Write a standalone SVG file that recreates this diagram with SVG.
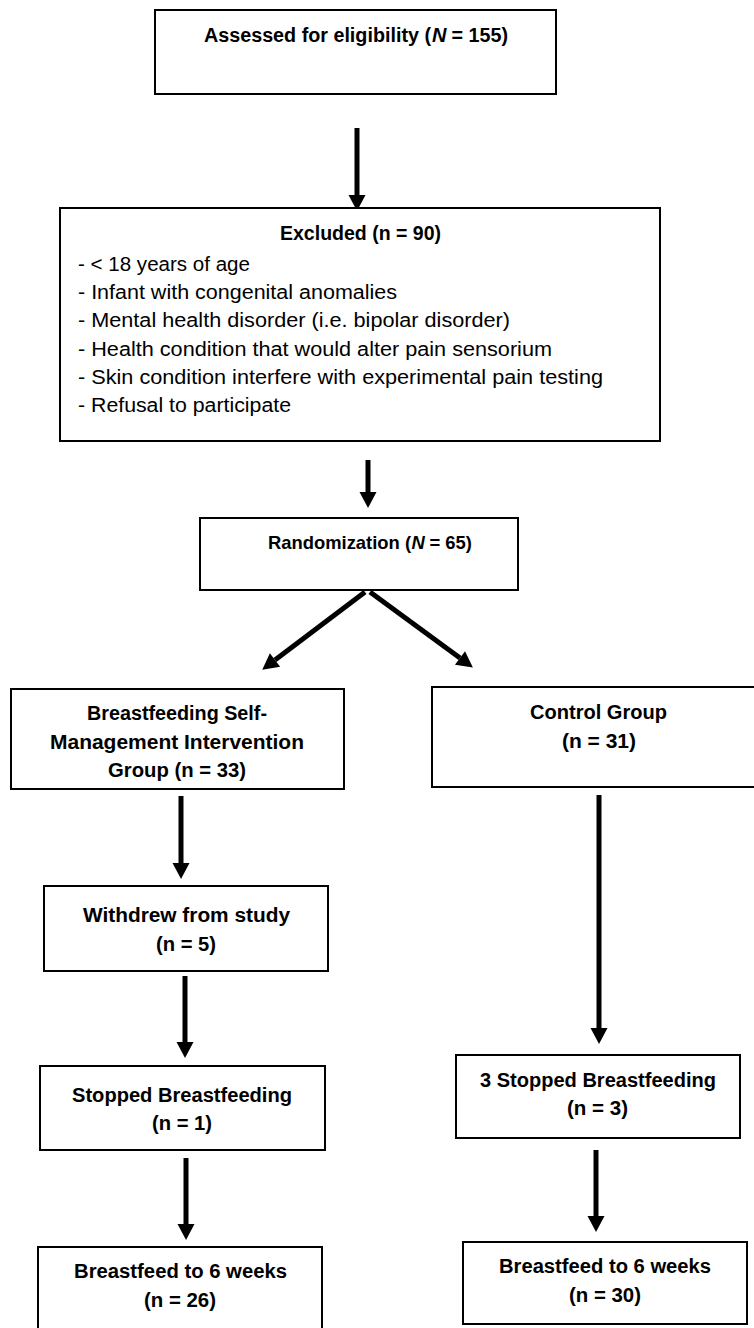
<svg xmlns="http://www.w3.org/2000/svg" width="754" height="1328" viewBox="0 0 754 1328">
<style>
.box{fill:#fff;stroke:#000;stroke-width:2}
.b{font-family:"Liberation Sans",Arial,sans-serif;font-weight:bold;font-size:20px;fill:#000;text-anchor:middle}
.s{text-anchor:start}
.i{font-style:italic}
.sm{font-size:18.4px}
.r{font-family:"Liberation Sans",Arial,sans-serif;font-size:19.5px;fill:#000}
.c{stroke:#000;stroke-width:5;fill:none;marker-end:url(#ah)}
</style>
<defs>
<marker id="ah" markerUnits="userSpaceOnUse" markerWidth="16" markerHeight="17" viewBox="0 0 16 17" refX="0" refY="8.5" orient="auto" overflow="visible">
<path d="M0,0 L16,8.5 L0,17 Z" fill="#000"/>
</marker>
</defs>
<rect width="754" height="1328" fill="#fff"/>
<g id="connectors">
<line class="c" x1="357" y1="128" x2="357" y2="195"/>
<line class="c" x1="368" y1="460" x2="368" y2="492"/>
<line class="c" x1="365" y1="592" x2="275" y2="660"/>
<line class="c" x1="370" y1="592" x2="460" y2="658"/>
<line class="c" x1="181" y1="796" x2="181" y2="863"/>
<line class="c" x1="599" y1="795" x2="599" y2="1028"/>
<line class="c" x1="185" y1="976" x2="185" y2="1042"/>
<line class="c" x1="186" y1="1158" x2="186" y2="1224"/>
<line class="c" x1="596" y1="1150" x2="596" y2="1216"/>
</g>
<g id="n-assessed">
<rect class="box" x="155" y="10" width="401" height="84"/>
<text class="b s" x="204" y="42" textLength="227" lengthAdjust="spacingAndGlyphs">Assessed for eligibility (</text>
<text class="b s i" x="432" y="42">N</text>
<text class="b s" x="451.5" y="42" textLength="56.5" lengthAdjust="spacingAndGlyphs">= 155)</text>
</g>
<g id="n-excluded">
<rect class="box" x="60" y="208" width="600" height="233"/>
<text class="b" x="360.5" y="240" textLength="161" lengthAdjust="spacingAndGlyphs">Excluded (n = 90)</text>
<text class="r" x="78" y="271" textLength="172" lengthAdjust="spacingAndGlyphs">- &lt; 18 years of age</text>
<text class="r" x="78" y="299" textLength="319" lengthAdjust="spacingAndGlyphs">- Infant with congenital anomalies</text>
<text class="r" x="78" y="327" textLength="432" lengthAdjust="spacingAndGlyphs">- Mental health disorder (i.e. bipolar disorder)</text>
<text class="r" x="78" y="356" textLength="474" lengthAdjust="spacingAndGlyphs">- Health condition that would alter pain sensorium</text>
<text class="r" x="78" y="384" textLength="525" lengthAdjust="spacingAndGlyphs">- Skin condition interfere with experimental pain testing</text>
<text class="r" x="78" y="412" textLength="213" lengthAdjust="spacingAndGlyphs">- Refusal to participate</text>
</g>
<g id="n-random">
<rect class="box" x="200" y="518" width="318" height="72"/>
<text class="b s sm" x="268" y="549">Randomization (</text>
<text class="b s i sm" x="411.5" y="549">N</text>
<text class="b s sm" x="429.5" y="549">= 65)</text>
</g>
<g id="n-intervention">
<rect class="box" x="11" y="689" width="333" height="100"/>
<text class="b" x="177" y="720" textLength="180" lengthAdjust="spacingAndGlyphs">Breastfeeding Self-</text>
<text class="b" x="177" y="749" textLength="254" lengthAdjust="spacingAndGlyphs">Management Intervention</text>
<text class="b" x="177" y="777" textLength="138" lengthAdjust="spacingAndGlyphs">Group (n = 33)</text>
</g>
<g id="n-control">
<rect class="box" x="432" y="687" width="330" height="100"/>
<text class="b" x="598.5" y="719" textLength="137" lengthAdjust="spacingAndGlyphs">Control Group</text>
<text class="b" x="599" y="748" textLength="74" lengthAdjust="spacingAndGlyphs">(n = 31)</text>
</g>
<g id="n-withdrew">
<rect class="box" x="44" y="886" width="284" height="85"/>
<text class="b" x="186.5" y="922" textLength="207" lengthAdjust="spacingAndGlyphs">Withdrew from study</text>
<text class="b" x="186" y="951" textLength="60" lengthAdjust="spacingAndGlyphs">(n = 5)</text>
</g>
<g id="n-stopped-left">
<rect class="box" x="40" y="1066" width="285" height="84"/>
<text class="b" x="182" y="1102" textLength="220" lengthAdjust="spacingAndGlyphs">Stopped Breastfeeding</text>
<text class="b" x="182" y="1130" textLength="60" lengthAdjust="spacingAndGlyphs">(n = 1)</text>
</g>
<g id="n-bf-left">
<rect class="box" x="38" y="1247" width="284" height="90"/>
<text class="b" x="180.5" y="1278" textLength="213" lengthAdjust="spacingAndGlyphs">Breastfeed to 6 weeks</text>
<text class="b" x="180" y="1307" textLength="72" lengthAdjust="spacingAndGlyphs">(n = 26)</text>
</g>
<g id="n-stopped-right">
<rect class="box" x="456" y="1055" width="284" height="83"/>
<text class="b" x="598" y="1087" textLength="236" lengthAdjust="spacingAndGlyphs">3 Stopped Breastfeeding</text>
<text class="b" x="597.5" y="1115" textLength="61" lengthAdjust="spacingAndGlyphs">(n = 3)</text>
</g>
<g id="n-bf-right">
<rect class="box" x="463" y="1242" width="284" height="82"/>
<text class="b" x="605" y="1273" textLength="212" lengthAdjust="spacingAndGlyphs">Breastfeed to 6 weeks</text>
<text class="b" x="605" y="1302" textLength="72" lengthAdjust="spacingAndGlyphs">(n = 30)</text>
</g>
</svg>
